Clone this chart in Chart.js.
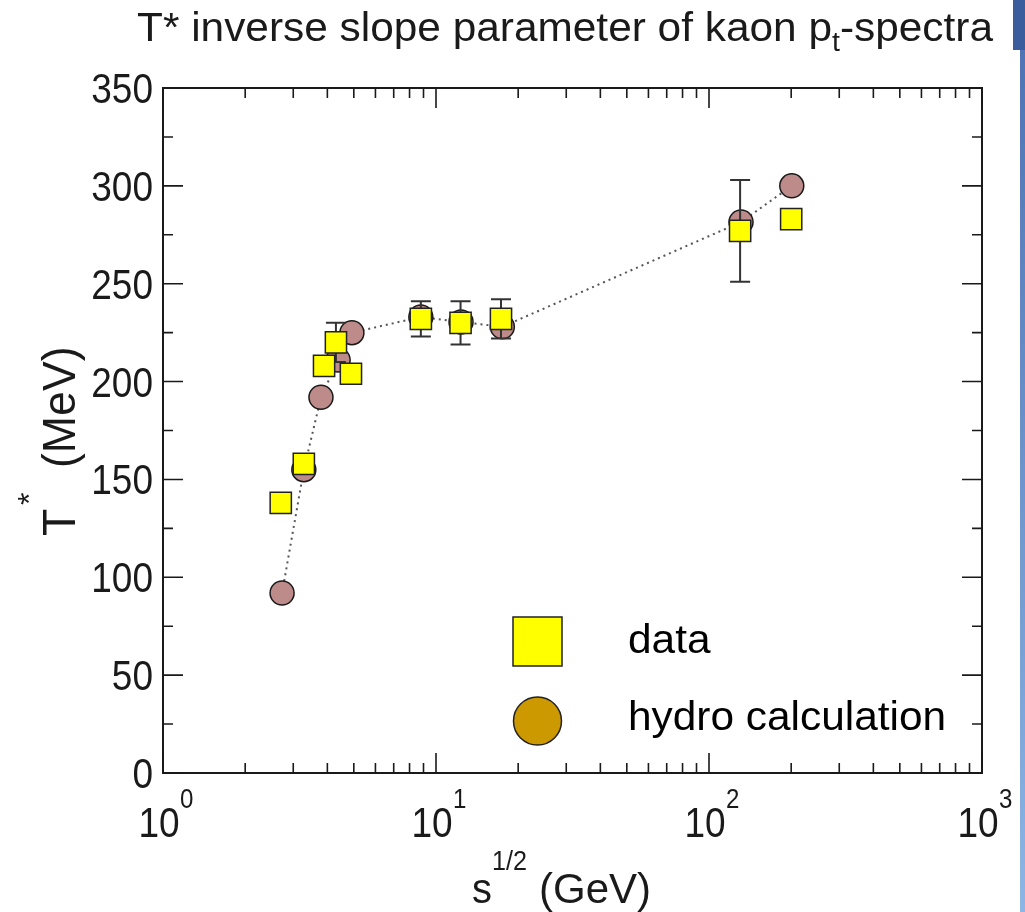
<!DOCTYPE html>
<html>
<head>
<meta charset="utf-8">
<script src="https://cdn.jsdelivr.net/npm/chart.js@4/dist/chart.umd.min.js"></script>
<style>
  body { margin: 0; background: #fff; }
  #wrap { position: relative; width: 1025px; height: 912px; overflow: hidden; }
  #edgeTop { position: absolute; left: 1013px; top: 0; width: 12px; height: 50px; background: #3b5d9e; }
  #edge { position: absolute; left: 1020px; top: 50px; width: 5px; height: 862px;
          background: linear-gradient(#4f73b4, #8db6e6); }
</style>
</head>
<body>
<div id="wrap">
  <canvas id="chart" width="1025" height="912"></canvas>
  <div id="edgeTop"></div>
  <div id="edge"></div>
</div>
<script>
// sqrt(s) in GeV and inverse slope T* in MeV
const dataEnergy = [2.70, 3.28, 3.89, 4.30, 4.88, 8.8, 12.3, 17.3, 130, 200]
const dataT = [138, 158, 208, 220, 204, 232, 230, 232, 277, 283]
const dataErr = [0, 0, 0, 10, 0, 9, 11, 10, 26, 0]

const hydroEnergy = [2.73, 3.28, 3.79, 4.38, 4.92, 8.8, 12.35, 17.5, 131, 201]
const hydroT = [92, 155, 192, 211, 225, 233, 230.5, 228, 281.5, 300]

const xDecades = [1, 10, 100, 1000]
const xDecadeExp = ['0', '1', '2', '3']
const yTicks = [0, 50, 100, 150, 200, 250, 300, 350]

const legendLabels = ['data', 'hydro calculation']

const FONT = '"Liberation Sans", Arial, sans-serif'
const INK = '#1a1a1a'

function toPoints (xs, ys) {
  const pts = []
  for (let i = 0; i < xs.length; i++) {
    pts.push({ x: xs[i], y: ys[i] })
  }
  return pts
}

function text (ctx, s, x, y, size, align, sx) {
  ctx.save()
  ctx.font = size + 'px ' + FONT
  ctx.textAlign = align || 'left'
  ctx.textBaseline = 'alphabetic'
  ctx.translate(x, y)
  ctx.scale(sx || 1, 1)
  ctx.fillText(s, 0, 0)
  ctx.restore()
}

function textWidth (ctx, s, size) {
  ctx.save()
  ctx.font = size + 'px ' + FONT
  const w = ctx.measureText(s).width
  ctx.restore()
  return w
}

// error bars go under the yellow squares but over the circles
const errorBars = {
  id: 'errorBars',
  beforeDatasetDraw (chart, args) {
    if (args.index !== 0) return
    const ctx = chart.ctx
    const xs = chart.scales.x
    const ys = chart.scales.y
    ctx.save()
    ctx.strokeStyle = '#333'
    ctx.lineWidth = 2
    for (let i = 0; i < dataT.length; i++) {
      if (!dataErr[i]) continue
      const px = xs.getPixelForValue(dataEnergy[i])
      const top = ys.getPixelForValue(dataT[i] + dataErr[i])
      const bot = ys.getPixelForValue(dataT[i] - dataErr[i])
      ctx.beginPath()
      ctx.moveTo(px, top)
      ctx.lineTo(px, bot)
      ctx.moveTo(px - 10, top)
      ctx.lineTo(px + 10, top)
      ctx.moveTo(px - 10, bot)
      ctx.lineTo(px + 10, bot)
      ctx.stroke()
    }
    ctx.restore()
  },
}

const frame = {
  id: 'frame',
  afterDraw (chart) {
    const ctx = chart.ctx
    const a = chart.chartArea
    const xs = chart.scales.x
    const ys = chart.scales.y

    ctx.save()
    ctx.strokeStyle = INK
    ctx.lineWidth = 2
    ctx.strokeRect(a.left, a.top, a.right - a.left, a.bottom - a.top)

    // inward ticks on all four sides
    ctx.lineWidth = 1.6
    ctx.beginPath()
    for (let d = 0; d < xDecades.length; d++) {
      const px = xs.getPixelForValue(xDecades[d])
      ctx.moveTo(px, a.bottom); ctx.lineTo(px, a.bottom - 20)
      ctx.moveTo(px, a.top); ctx.lineTo(px, a.top + 20)
      if (d === xDecades.length - 1) break
      for (let m = 2; m <= 9; m++) {
        const pm = xs.getPixelForValue(xDecades[d] * m)
        ctx.moveTo(pm, a.bottom); ctx.lineTo(pm, a.bottom - 10)
        ctx.moveTo(pm, a.top); ctx.lineTo(pm, a.top + 10)
      }
    }
    for (let i = 0; i < yTicks.length; i++) {
      const py = ys.getPixelForValue(yTicks[i])
      ctx.moveTo(a.left, py); ctx.lineTo(a.left + 20, py)
      ctx.moveTo(a.right, py); ctx.lineTo(a.right - 20, py)
      if (i < yTicks.length - 1) {
        const pm = ys.getPixelForValue((yTicks[i] + yTicks[i + 1]) / 2)
        ctx.moveTo(a.left, pm); ctx.lineTo(a.left + 10, pm)
        ctx.moveTo(a.right, pm); ctx.lineTo(a.right - 10, pm)
      }
    }
    ctx.stroke()

    ctx.fillStyle = INK
    // y tick labels
    for (let i = 0; i < yTicks.length; i++) {
      const py = ys.getPixelForValue(yTicks[i])
      text(ctx, String(yTicks[i]), a.left - 10, py + 15, 43, 'right', 0.86)
    }
    // x tick labels 10^n
    for (let d = 0; d < xDecades.length; d++) {
      const px = xs.getPixelForValue(xDecades[d])
      text(ctx, '10', px - 4, a.bottom + 64, 43, 'center', 0.86)
      text(ctx, xDecadeExp[d], px + 17, a.bottom + 35, 28, 'left', 0.86)
    }

    // axis titles
    text(ctx, 's', 472, 903, 42, 'left', 0.95)
    text(ctx, '1/2', 492, 870, 28, 'left', 0.9)
    text(ctx, '(GeV)', 539, 903, 42, 'left', 1.0)

    ctx.save()
    ctx.translate(75, 536)
    ctx.rotate(-Math.PI / 2)
    text(ctx, 'T', 0, 0, 47, 'left', 0.95)
    text(ctx, '*', 31, -35, 32, 'left', 1)
    text(ctx, '(MeV)', 68, 0, 47, 'left', 0.95)
    ctx.restore()

    // title with subscript t
    const t1 = 'T* inverse slope parameter of kaon p'
    const t2 = 't'
    const t3 = '-spectra'
    const w1 = textWidth(ctx, t1, 40)
    const w2 = textWidth(ctx, t2, 27)
    const w3 = textWidth(ctx, t3, 40)
    const sx = 856 / (w1 + w2 + w3)
    let tx = 137
    text(ctx, t1, tx, 41, 40, 'left', sx); tx += w1 * sx
    text(ctx, t2, tx, 51, 27, 'left', sx); tx += w2 * sx
    text(ctx, t3, tx, 41, 40, 'left', sx)

    // legend
    ctx.lineWidth = 1.5
    ctx.strokeStyle = '#222'
    ctx.fillStyle = '#ffff00'
    ctx.fillRect(513, 617, 49, 49)
    ctx.strokeRect(513, 617, 49, 49)
    ctx.beginPath()
    ctx.arc(537.5, 721, 24, 0, Math.PI * 2)
    ctx.fillStyle = '#cc9900'
    ctx.fill()
    ctx.stroke()
    ctx.fillStyle = '#000'
    text(ctx, legendLabels[0], 628, 653, 40, 'left', 1.06)
    text(ctx, legendLabels[1], 628, 730, 40, 'left', 1.06)
    ctx.restore()
  },
}

const datasets = [
  {
    label: legendLabels[0],
    data: toPoints(dataEnergy, dataT),
    showLine: false,
    pointStyle: 'rect',
    pointRadius: 15,
    pointHoverRadius: 15,
    backgroundColor: '#ffff00',
    borderColor: '#222',
    borderWidth: 1.5,
  },
  {
    label: legendLabels[1],
    data: toPoints(hydroEnergy, hydroT),
    showLine: true,
    borderColor: '#555',
    borderWidth: 2,
    borderDash: [2, 4],
    tension: 0,
    pointStyle: 'circle',
    pointRadius: 12,
    pointHoverRadius: 12,
    pointBackgroundColor: '#bd8b89',
    pointBorderColor: '#1a1a1a',
    pointBorderWidth: 1.5,
  },
]

const config = {
  type: 'scatter',
  data: {
    datasets: datasets,
  },
  options: {
    responsive: false,
    animation: false,
    events: [],
    layout: {
      padding: { left: 163, top: 88, right: 43, bottom: 139 },
    },
    plugins: {
      legend: { display: false },
      title: { display: false },
      tooltip: { enabled: false },
    },
    scales: {
      x: {
        type: 'logarithmic',
        min: 1,
        max: 1000,
        ticks: { display: false },
        grid: { display: false },
        border: { display: false },
        afterFit (scale) { scale.height = 0 },
      },
      y: {
        min: 0,
        max: 350,
        ticks: { display: false },
        grid: { display: false },
        border: { display: false },
        afterFit (scale) { scale.width = 0 },
      },
    },
  },
  plugins: [errorBars, frame],
}

const ctx = document.getElementById('chart').getContext('2d')
const myChart = new Chart(ctx, config)
</script>
</body>
</html>
